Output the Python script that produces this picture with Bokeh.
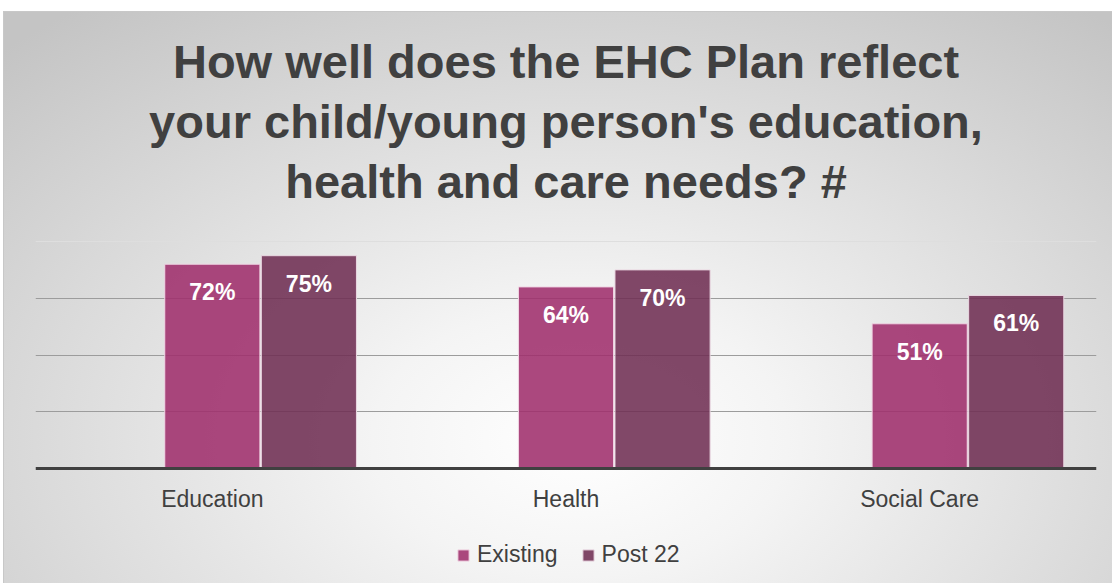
from bokeh.plotting import figure
from bokeh.models import (ColumnDataSource, FixedTicker, LabelSet, Legend,
                          LegendItem, Span, Title)
from bokeh.core.properties import value
from bokeh.embed import file_html
from bokeh.resources import INLINE

# Survey results (% of respondents)
categories = ["Education", "Health", "Social Care"]
existing = [72, 64, 51]
post_22 = [75, 70, 61]
series_names = ["Existing", "Post 22"]
y_ticks = [0, 20, 40, 60, 80]
title_lines = ["How well does the EHC Plan reflect",
               "your child/young person's education,",
               "health and care needs? #"]

FONT = "Liberation Sans"
TEXT_COLOR = "#404040"
COLORS = ["#9f2f6c", "#702f53"]

centers = [i + 0.5 for i in range(len(categories))]
bar_w = 0.269
offset = 0.273

src_existing = ColumnDataSource(dict(
    x=centers, top=existing, label=[f"{v}%" for v in existing]))
src_post = ColumnDataSource(dict(
    x=[c + offset for c in centers], top=post_22,
    label=[f"{v}%" for v in post_22]))
src_cats = ColumnDataSource(dict(
    x=centers, y=[y_ticks[0]] * len(centers), label=categories))

# the plot frame reaches past the 0-80 band at both ends: the category names
# and the legend sit underneath the zero line, the title just above the top
p = figure(width=1108, height=571, x_range=(0, 3), y_range=(-40.53, 90.93),
           title=None, output_backend="svg", toolbar_location=None,
           min_border_left=31, min_border_right=16,
           min_border_top=198, min_border_bottom=0)
p.margin = (12, 0, 0, 4)
p.styles = {
    "background": "radial-gradient(ellipse 75% 95% at 52% 75%, #ffffff 0%, "
                  "#f4f4f4 25%, #c4c4c4 100%)",
    "outline": "1px solid #c8c8c8",
}
p.background_fill_color = None
p.border_fill_color = None
p.outline_line_color = None

# three centred title lines, added from the frame outwards
for line in reversed(title_lines):
    p.add_layout(Title(text=line, align="center", text_font=FONT,
                       text_font_style="bold", text_font_size="47px",
                       text_color=TEXT_COLOR, standoff=5), "above")

# grid
p.xgrid.visible = False
p.ygrid.ticker = FixedTicker(ticks=y_ticks[1:-1])
p.ygrid.grid_line_color = "#9c9c9c"
p.ygrid.grid_line_width = 1
p.add_layout(Span(location=y_ticks[-1], dimension="width",
                  line_color="#dedede", line_width=1))
p.xaxis.visible = False
p.yaxis.visible = False

# bars
r1 = p.vbar(x="x", top="top", bottom=y_ticks[0], width=bar_w,
            source=src_existing, fill_color=COLORS[0], fill_alpha=0.88,
            line_color="#f0d6e4", line_width=1)
r2 = p.vbar(x="x", top="top", bottom=y_ticks[0], width=bar_w,
            source=src_post, fill_color=COLORS[1], fill_alpha=0.88,
            line_color="#ead8e2", line_width=1)

# zero line
p.add_layout(Span(location=y_ticks[0], dimension="width",
                  line_color=TEXT_COLOR, line_width=3))

# value labels inside the bars
for src in (src_existing, src_post):
    p.add_layout(LabelSet(x="x", y="top", text="label", source=src,
                          y_offset=-28, text_align="center",
                          text_baseline="middle", text_color="white",
                          text_font=value(FONT), text_font_style="bold",
                          text_font_size="23px"))

# category names under the zero line
p.add_layout(LabelSet(x="x", y="y", text="label", source=src_cats,
                      y_offset=-30, text_align="center",
                      text_baseline="middle", text_color=TEXT_COLOR,
                      text_font=value(FONT), text_font_size="23px"))

# legend
legend = Legend(items=[LegendItem(label=series_names[0], renderers=[r1]),
                       LegendItem(label=series_names[1], renderers=[r2])],
                location=(421, 15), orientation="horizontal",
                glyph_width=14, glyph_height=14, label_standoff=7,
                spacing=23, padding=0, margin=0,
                label_text_font=FONT, label_text_font_size="23px",
                label_text_color=TEXT_COLOR,
                background_fill_alpha=0, border_line_color=None)
p.add_layout(legend)

open("out.html", "w").write(file_html(p, INLINE))
